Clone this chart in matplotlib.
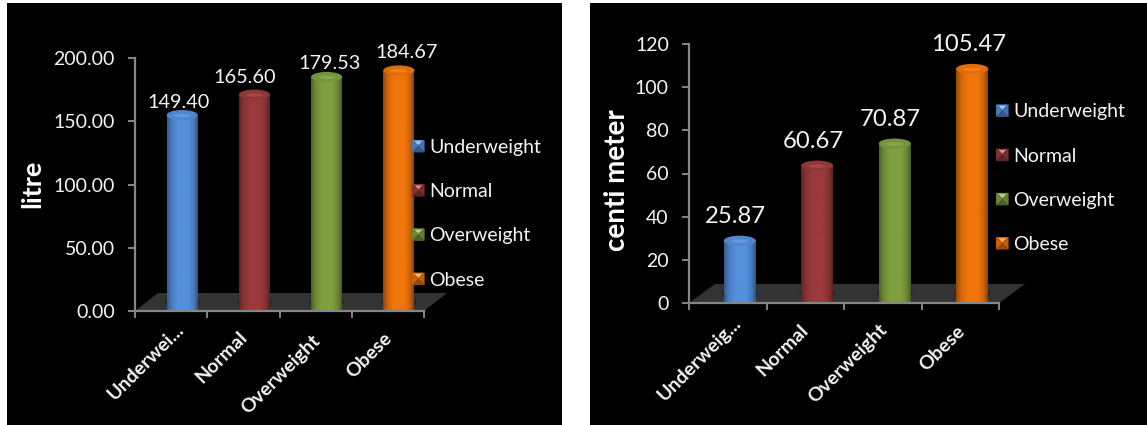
import numpy as np
import matplotlib
matplotlib.use('Agg')
import matplotlib.pyplot as plt
from matplotlib.colors import LinearSegmentedColormap, to_rgb
from matplotlib.legend_handler import HandlerBase
from matplotlib.patches import Ellipse, Polygon, Rectangle
from matplotlib.path import Path
from matplotlib.transforms import Affine2D

W, H = 1147, 425

categories = ['Underweight', 'Normal', 'Overweight', 'Obese']
colors = ['#5590DC', '#9A3A3A', '#7F9F40', '#F0750A']

litre_values = [149.40, 165.60, 179.53, 184.67]
litre_ticks = [0, 50, 100, 150, 200]
litre_xlabels = ['Underwei...', 'Normal', 'Overweight', 'Obese']

cm_values = [25.87, 60.67, 70.87, 105.47]
cm_ticks = [0, 20, 40, 60, 80, 100, 120]
cm_xlabels = ['Underweig...', 'Normal', 'Overweight', 'Obese']

plt.rcParams['font.family'] = 'Lato'
TEXT = '#f4f4f4'
AXIS = '#868686'


def shade(color, k):
    r = np.array(to_rgb(color))
    if k < 1:
        return tuple(r * k)
    return tuple(r + (1 - r) * (k - 1))


def px_rect(x0, y0, x1, y1):
    return [x0 / W, 1 - y1 / H, (x1 - x0) / W, (y1 - y0) / H]


class BevelHandler(HandlerBase):
    # little square with four bevelled faces, used as legend key
    def create_artists(self, legend, orig, xd, yd, width, height, fontsize, trans):
        c = orig.get_facecolor()
        s = 9
        x0 = xd * -1 + (width - s) / 2
        y0 = yd * -1 + (height - s) / 2
        x1, y1 = x0 + s, y0 + s
        mx, my = x0 + s / 2, y0 + s / 2
        faces = [
            ([(x0, y0), (x1, y0), (mx, my)], shade(c, 0.62)),
            ([(x0, y0), (x0, y1), (mx, my)], shade(c, 0.85)),
            ([(x1, y0), (x1, y1), (mx, my)], shade(c, 0.80)),
            ([(x0, y1), (x1, y1), (mx, my)], c),
            ([(x0 + 2, y1 - 1), (x1 - 2, y1 - 1), (mx, my + 1)], shade(c, 1.5)),
        ]
        return [Polygon(p, closed=True, facecolor=f, edgecolor='none', transform=trans)
                for p, f in faces]


def draw_panel(fig, rect, values, ticks, ymax, fmt, xlabels, ylabel, conf):
    x0, y0, x1, y1 = rect
    ax = fig.add_axes(px_rect(x0, y0, x1, y1))
    ax.patch.set_alpha(0)
    xs = (x1 - x0) / 4
    ys = (y1 - y0) / ymax
    ax.set_xlim(0, 4)
    ax.set_ylim(0, ymax)

    # floor of the chart
    ddx, ddy = conf['depth']
    floor = Polygon([(0, 0), (4, 0), (4 + ddx / xs, ddy / ys), (ddx / xs, ddy / ys)],
                    closed=True, facecolor='#333333', edgecolor='none', clip_on=False, zorder=1)
    ax.add_patch(floor)

    off = ax.transData + Affine2D().translate(conf['dx'], conf['lift_top'])
    w = conf['bar_w'] / 2 / xs
    h = conf['cap_h'] / 2 / ys
    base = (conf['lift_base'] - conf['lift_top']) / ys

    for i, (v, c) in enumerate(zip(values, colors)):
        x = i + 0.5
        t = np.linspace(np.pi, 2 * np.pi, 30)
        bottom = np.column_stack([x + w * np.cos(t), base + h * np.sin(t)])
        verts = np.vstack([[(x - w, v)], bottom, [(x + w, v)], [(x - w, v)]])
        body = Path(verts)

        shadow = Ellipse((x, base - 0.5 / ys), 2.25 * w, 2.4 * h, facecolor='#242424',
                         edgecolor='none', transform=off, zorder=2)
        ax.add_patch(shadow)

        cmap = LinearSegmentedColormap.from_list('cyl', [
            (0.0, shade(c, 0.62)), (0.14, shade(c, 0.86)), (0.35, c),
            (0.7, c), (0.88, shade(c, 0.84)), (1.0, shade(c, 0.58))])
        grad = np.linspace(0, 1, 64).reshape(1, -1)
        im = ax.imshow(grad, cmap=cmap, aspect='auto',
                       extent=(x - w, x + w, base - 2 * h, v),
                       interpolation='bilinear', zorder=3, clip_on=False)
        im.set_transform(off)
        im.set_clip_path(body, transform=off)

        cap = Ellipse((x, v), 2 * w, 2 * h, facecolor=shade(c, 0.93), edgecolor='none',
                      transform=off, zorder=4)
        ax.add_patch(cap)
        glow = Ellipse((x, v - 0.1 * h), 1.1 * w, 0.7 * h, facecolor=shade(c, 1.07),
                       edgecolor='none', transform=off, zorder=5)
        ax.add_patch(glow)

        lx, ly = conf['label_off'][i]
        ax.annotate(fmt % v, (x, v), xytext=(conf['dx'] + lx, conf['lift_top'] + ly),
                    textcoords='offset pixels', ha='center', va='center', color=TEXT,
                    fontsize=conf['label_size'], zorder=6, annotation_clip=False)

        # slanted category name below the axis
        nx, ny = conf['name_off'][i]
        ax.annotate(xlabels[i], (x, 0), xytext=(nx, ny), textcoords='offset pixels',
                    rotation=45, ha='right', va='top', rotation_mode='anchor', color=TEXT,
                    fontsize=14, fontweight='bold', annotation_clip=False)

    ax.set_xlim(0, 4)
    ax.set_ylim(0, ymax)

    for s in ['top', 'right']:
        ax.spines[s].set_visible(False)
    for s in ['left', 'bottom']:
        ax.spines[s].set_color(AXIS)
        ax.spines[s].set_linewidth(1.6)
        ax.spines[s].set_zorder(7)

    ax.set_yticks(ticks)
    ax.set_yticklabels([conf['tick_fmt'] % t for t in ticks], color=TEXT, fontsize=14)
    ax.set_xticks(range(5))
    ax.set_xticklabels([])
    ax.tick_params(axis='both', which='major', color=AXIS, width=1.4, length=5, pad=9.5)

    fig.text(conf['ylabel_xy'][0] / W, 1 - conf['ylabel_xy'][1] / H, ylabel, rotation=90,
             ha='center', va='center', color='white', fontsize=conf['ylabel_size'],
             fontweight='bold')

    handles = [Rectangle((0, 0), 1, 1, facecolor=c) for c in colors]
    lx, ly = conf['legend_xy']
    ax.legend(handles, categories, loc='upper left', frameon=False,
              bbox_to_anchor=(lx / W, 1 - ly / H), bbox_transform=fig.transFigure,
              handler_map={Rectangle: BevelHandler()}, labelcolor=TEXT, fontsize=14,
              labelspacing=1.33, handlelength=0.65, handleheight=1.0, handletextpad=0.25,
              borderpad=0, borderaxespad=0)
    return ax


fig = plt.figure(figsize=(W / 100, H / 100), dpi=100, facecolor='white')
fig.add_artist(Rectangle((7 / W, 0), 555 / W, 422 / H, transform=fig.transFigure,
                         facecolor='black', edgecolor='none', zorder=-1))
fig.add_artist(Rectangle((590 / W, 0), 557 / W, 422 / H, transform=fig.transFigure,
                         facecolor='black', edgecolor='none', zorder=-1))

draw_panel(fig, (135, 58, 424, 311), litre_values, litre_ticks, 200, '%.2f',
           litre_xlabels, 'litre',
           dict(depth=(23, 18), dx=11, lift_top=7, lift_base=9, bar_w=31, cap_h=10,
                label_off=[(-4, 13), (-10, 17), (3, 13), (8, 18)], label_size=14.3,
                name_off=[(4, -10), (-5, -17), (-4, -21), (-5, -18)],
                tick_fmt='%.2f', ylabel_xy=(32, 184), ylabel_size=19.5,
                legend_xy=(412, 137.5)))

draw_panel(fig, (689, 44, 999, 303), cm_values, cm_ticks, 120, '%.2f',
           cm_xlabels, 'centi meter',
           dict(depth=(26, 19), dx=12, lift_top=6.5, lift_base=10, bar_w=32, cap_h=10,
                label_off=[(-4, 24), (-4, 24), (-4, 24), (-4, 24)], label_size=17.2,
                name_off=[(5, -11), (-6, -18), (-4, -18), (-4, -19)],
                tick_fmt='%d', ylabel_xy=(617, 180), ylabel_size=20,
                legend_xy=(996, 102)))

fig.savefig('out.png', dpi=100)
